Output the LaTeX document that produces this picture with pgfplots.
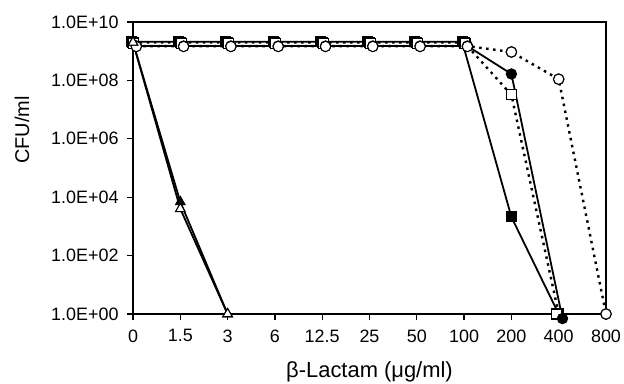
\documentclass[border=0pt]{standalone}
\usepackage{pgfplots}
\pgfplotsset{compat=1.18}
\usepackage{fontspec}
\setmainfont{Liberation Sans}
\begin{document}
\begin{tikzpicture}
\path[use as bounding box] (-133bp,-70bp) rectangle (491bp,314bp);
\begin{axis}[
  at={(0,0)}, anchor=south west,
  width=473bp, height=292bp, scale only axis,
  xmin=0, xmax=10, ymode=log, ymin=1, ymax=1e10,
  xtick={0,1,2,3,4,5,6,7,8,9,10},
  xticklabels={0,1.5,3,6,12.5,25,50,100,200,400,800},
  ytick={1,1e2,1e4,1e6,1e8,1e10},
  yticklabels={1.0E+00,1.0E+02,1.0E+04,1.0E+06,1.0E+08,1.0E+10},
  minor ytick={},
  tick align=outside, xtick pos=bottom, ytick pos=left,
  major tick length=6bp,
  axis line style={line width=1.6bp},
  tick style={line width=1.3bp, black},
  xticklabel style={font=\fontsize{18}{20}\selectfont, yshift=-6bp},
  yticklabel style={font=\fontsize{18}{20}\selectfont, xshift=-5bp},
  xlabel={β-Lactam (μg/ml)},
  ylabel={CFU/ml},
  xlabel style={font=\fontsize{22}{24}\selectfont, at={(axis description cs:0.5,0)}, anchor=center, yshift=-58bp},
  ylabel style={font=\fontsize{20}{22}\selectfont, at={(axis description cs:0,0.63)}, anchor=center, yshift=111bp},
  clip=false,
  every axis plot/.append style={line width=1.8bp},
]
% open circle, dotted
\addplot[black, dash pattern=on 2.5bp off 4.5bp, line width=2.4bp,
  mark=*, mark size=5.2bp, mark options={solid, fill=white, line width=1.1bp}]
  coordinates {(0.07,1.5e9)(1.07,1.5e9)(2.07,1.5e9)(3.07,1.5e9)(4.07,1.5e9)(5.07,1.5e9)(6.07,1.5e9)(7.07,1.5e9)(8,9.4e8)(9,1.1e8)(10,1)};
% open square, dotted
\addplot[black, dash pattern=on 2.5bp off 4.5bp, line width=2.4bp,
  mark=square*, mark size=5bp, mark options={solid, fill=white, line width=1.1bp}]
  coordinates {(0,2e9)(1,2e9)(2,2e9)(3,2e9)(4,2e9)(5,2e9)(6,2e9)(7,2e9)(8,3.2e7)(9,1)};
% filled square, solid
\addplot[black, mark=square*, mark size=5bp, mark options={fill=black, line width=1bp}]
  coordinates {(-0.04,2.1e9)(0.96,2.1e9)(1.96,2.1e9)(2.96,2.1e9)(3.96,2.1e9)(4.96,2.1e9)(5.96,2.1e9)(6.96,2.1e9)(8,2.1e3)(9,1)};
% open square markers on top
\addplot[only marks, black, mark=square*, mark size=5bp, mark options={fill=white, line width=1.1bp}]
  coordinates {(0.02,1.9e9)(1.02,1.9e9)(2.02,1.9e9)(3.02,1.9e9)(4.02,1.9e9)(5.02,1.9e9)(6.02,1.9e9)(7.02,1.9e9)(8,3.2e7)(8.95,1)};
% filled circle, solid
\addplot[black, mark=*, mark size=5.2bp, mark options={fill=black, line width=1bp}]
  coordinates {(0.07,1.5e9)(1.07,1.5e9)(2.07,1.5e9)(3.07,1.5e9)(4.07,1.5e9)(5.07,1.5e9)(6.07,1.5e9)(7.07,1.5e9)(8,1.66e8)(9.08,0.7)};
% open circle markers on top
\addplot[only marks, black, mark=*, mark size=5.2bp, mark options={fill=white, line width=1.1bp}]
  coordinates {(0.07,1.45e9)(1.07,1.45e9)(2.07,1.45e9)(3.07,1.45e9)(4.07,1.45e9)(5.07,1.45e9)(6.07,1.45e9)(7.07,1.45e9)(8,9.4e8)(9,1.1e8)(10,1)};
% filled triangle
\addplot[black, mark=triangle*, mark size=5.5bp, mark options={fill=black, line width=1bp}]
  coordinates {(0,2e9)(1,6.9e3)(2,1)};
% open triangle
\addplot[black, mark=triangle*, mark size=5.5bp, mark options={fill=white, line width=1.1bp}]
  coordinates {(0,2e9)(1,4e3)(2,1)};
\end{axis}
\end{tikzpicture}
\end{document}
